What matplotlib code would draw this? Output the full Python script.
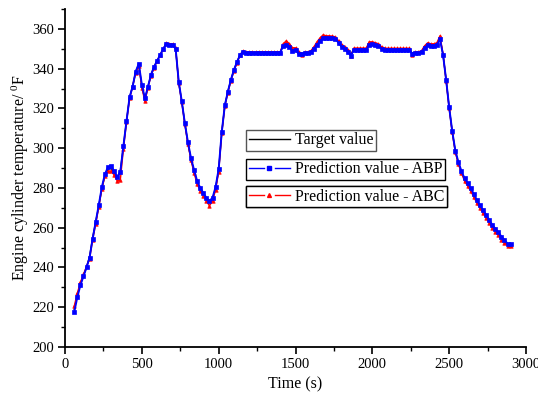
import matplotlib
matplotlib.use("Agg")
import matplotlib.pyplot as plt
from matplotlib.lines import Line2D
from matplotlib.legend_handler import HandlerBase
from matplotlib.ticker import MultipleLocator

plt.rcParams['font.family'] = ['Liberation Serif', 'DejaVu Serif']
plt.rcParams['mathtext.fontset'] = 'custom'
plt.rcParams['mathtext.rm'] = 'Liberation Serif'
plt.rcParams['mathtext.it'] = 'Liberation Serif:italic'

time_s = list(range(60, 2901, 20))

target = [
    219.0, 226.0, 231.5, 236.0, 240.0, 245.5, 255.0, 263.0, 271.0, 280.0,
    286.5, 289.5, 290.0, 287.5, 285.5, 288.5, 301.0, 313.5, 325.5, 331.0,
    338.5, 342.0, 331.5, 324.5, 331.0, 337.0, 341.0, 344.0, 347.0, 350.0,
    352.5, 352.0, 352.0, 350.0, 333.0, 323.5, 312.5, 302.5, 294.5, 288.5,
    283.0, 279.5, 277.0, 274.5, 272.5, 274.5, 280.0, 289.0, 308.0, 321.5,
    328.5, 334.5, 339.5, 343.5, 347.0, 348.6, 348.0, 348.0, 348.0, 348.0,
    348.0, 348.0, 348.0, 348.0, 348.0, 348.0, 348.0, 348.0, 352.0, 352.5,
    351.5, 349.5, 350.0, 348.0, 347.7, 348.0, 348.0, 348.5, 350.5, 352.5,
    354.5, 356.0, 356.0, 356.0, 355.8, 355.5, 353.5, 351.5, 350.5, 349.0,
    347.0, 349.8, 349.8, 349.8, 349.8, 349.8, 352.5, 352.8, 352.5, 352.0,
    350.5, 349.8, 349.8, 349.8, 349.8, 349.8, 349.8, 349.8, 349.8, 349.8,
    347.7, 348.0, 348.3, 348.6, 351.0, 352.5, 352.0, 352.0, 352.5, 355.5,
    347.0, 334.5, 320.5, 308.3, 298.5, 292.5, 288.0, 284.2, 282.0, 279.3,
    276.5, 273.5, 270.6, 268.5, 266.0, 263.5, 261.0, 259.0, 257.2, 255.0,
    253.3, 251.5, 251.5,
]

pred_abp = [
    217.5, 225.0, 231.0, 235.5, 240.0, 245.0, 254.5, 263.0, 271.5, 280.5,
    287.0, 290.5, 291.0, 288.5, 285.5, 288.0, 301.0, 313.5, 325.5, 331.0,
    338.5, 342.5, 332.0, 325.0, 331.0, 337.0, 341.0, 344.0, 347.0, 350.0,
    352.5, 352.0, 352.0, 350.0, 333.5, 323.5, 312.5, 303.0, 295.0, 289.0,
    283.5, 280.0, 277.5, 275.0, 273.5, 275.0, 280.5, 289.5, 308.0, 321.5,
    328.5, 334.5, 339.5, 343.5, 347.0, 348.6, 348.0, 348.0, 348.0, 348.0,
    348.0, 348.0, 348.0, 348.0, 348.0, 348.0, 348.0, 348.0, 351.5, 352.0,
    351.0, 349.0, 349.5, 347.5, 347.3, 347.8, 347.8, 348.3, 350.0, 352.0,
    354.0, 355.5, 355.5, 355.5, 355.3, 355.0, 353.0, 351.0, 350.0, 348.5,
    346.5, 349.5, 349.5, 349.5, 349.5, 349.5, 352.0, 352.3, 352.0, 351.5,
    350.0, 349.5, 349.5, 349.5, 349.5, 349.5, 349.5, 349.5, 349.5, 349.5,
    347.5, 347.8, 348.0, 348.3, 350.5, 352.0, 351.5, 351.5, 352.0, 354.8,
    347.0, 334.5, 320.5, 308.5, 298.8, 293.0, 288.5, 284.8, 282.5, 280.0,
    277.0, 274.0, 271.2, 269.0, 266.5, 264.0, 261.5, 259.5, 257.8, 255.5,
    253.8, 252.0, 251.8,
]

pred_abc = [
    220.5, 227.0, 232.5, 236.5, 240.5, 244.5, 254.0, 262.0, 270.5, 279.5,
    286.0, 288.5, 288.5, 286.5, 283.5, 284.0, 299.5, 313.0, 325.0, 331.0,
    338.0, 341.5, 330.5, 323.5, 330.5, 336.5, 340.5, 344.0, 347.0, 350.0,
    353.0, 352.5, 352.5, 350.5, 333.0, 323.0, 312.0, 302.0, 294.0, 287.5,
    282.0, 278.5, 276.0, 273.5, 271.0, 273.5, 279.0, 288.0, 307.5, 321.0,
    328.0, 334.0, 339.0, 343.0, 347.0, 349.0, 348.3, 348.3, 348.3, 348.3,
    348.3, 348.3, 348.3, 348.3, 348.3, 348.3, 348.3, 348.3, 352.5, 354.0,
    352.5, 350.5, 350.5, 348.5, 347.0, 348.3, 348.3, 349.0, 351.0, 353.5,
    355.5, 357.0, 356.5, 356.5, 356.3, 356.0, 354.0, 352.0, 351.0, 349.5,
    346.5, 350.3, 350.3, 350.3, 350.3, 350.3, 353.5, 353.5, 353.0, 352.5,
    351.0, 350.2, 350.2, 350.2, 350.2, 350.2, 350.2, 350.2, 350.2, 350.2,
    347.0, 348.3, 348.5, 349.0, 351.5, 353.0, 352.5, 352.5, 353.0, 356.5,
    347.5, 334.0, 320.0, 308.0, 298.0, 292.0, 287.5, 283.5, 281.0, 278.5,
    275.5, 272.5, 269.8, 267.5, 265.0, 262.5, 260.0, 258.0, 256.3, 254.0,
    252.5, 251.0, 251.0,
]

x_label = "Time (s)"
y_label = "Engine cylinder temperature/ $^{0}$F"
legend_labels = ["Target value", "Prediction value - ABP", "Prediction value - ABC"]


class GapHandler(HandlerBase):
    def create_artists(self, legend, orig, xdescent, ydescent, width, height,
                       fontsize, trans):
        y = height / 2 - ydescent
        x0 = -xdescent
        c = orig.get_color()
        lw = 1.0
        mk = orig.get_marker()
        arts = []
        if mk in (None, 'None', '', ' '):
            arts.append(Line2D([x0, x0 + width], [y, y], color=c, lw=lw))
        else:
            arts.append(Line2D([x0, x0 + width * 0.36], [y, y], color=c, lw=lw))
            arts.append(Line2D([x0 + width * 0.64, x0 + width], [y, y], color=c, lw=lw))
            arts.append(Line2D([x0 + width / 2], [y], marker=mk, color=c, lw=0,
                               markersize=2.8))
        for a in arts:
            a.set_transform(trans)
        return arts


fig = plt.figure(figsize=(5.38, 3.94), dpi=100)
ax = fig.add_axes([65 / 538, 1 - 347 / 394, 461 / 538, 338 / 394])

l_t, = ax.plot(time_s, target, color='black', lw=1.0, zorder=2)
l_c, = ax.plot(time_s, pred_abc, color='red', lw=1.0, marker='^',
               markersize=2.5, markeredgewidth=0.5, zorder=3)
l_p, = ax.plot(time_s, pred_abp, color='blue', lw=1.4, marker='s',
               markersize=2.3, markeredgewidth=0.5, zorder=4)

ax.set_xlim(0, 3000)
ax.set_ylim(200, 370)
ax.xaxis.set_major_locator(MultipleLocator(500))
ax.xaxis.set_minor_locator(MultipleLocator(250))
ax.yaxis.set_minor_locator(MultipleLocator(10))
ax.set_yticks([200, 220, 240, 260, 280, 300, 320, 340, 360])
ax.spines['top'].set_visible(False)
ax.spines['right'].set_visible(False)
for s in ('left', 'bottom'):
    ax.spines[s].set_linewidth(1.3)
ax.tick_params(which='major', direction='out', length=5, width=1.2,
               labelsize=10.5, pad=3)
ax.tick_params(which='minor', direction='out', length=3, width=1.0)
ax.set_xlabel(x_label, fontsize=11.5, labelpad=4)
ax.set_ylabel(y_label, fontsize=11.5, labelpad=1)

handles = [l_t, l_p, l_c]
tops = [0.642, 0.556, 0.475]
for h, lab, top in zip(handles, legend_labels, tops):
    lg = ax.legend([h], [lab], loc='upper left', bbox_to_anchor=(0.393, top),
                   borderaxespad=0, fancybox=False, framealpha=1,
                   edgecolor='black', fontsize=11.5, handlelength=2.6,
                   handletextpad=0.3, borderpad=0.15,
                   handler_map={Line2D: GapHandler()})
    lg.get_frame().set_linewidth(1.0)
    if h is l_t:
        lg.get_frame().set_edgecolor('#555555')
    ax.add_artist(lg)

fig.savefig("out.png", dpi=100)
